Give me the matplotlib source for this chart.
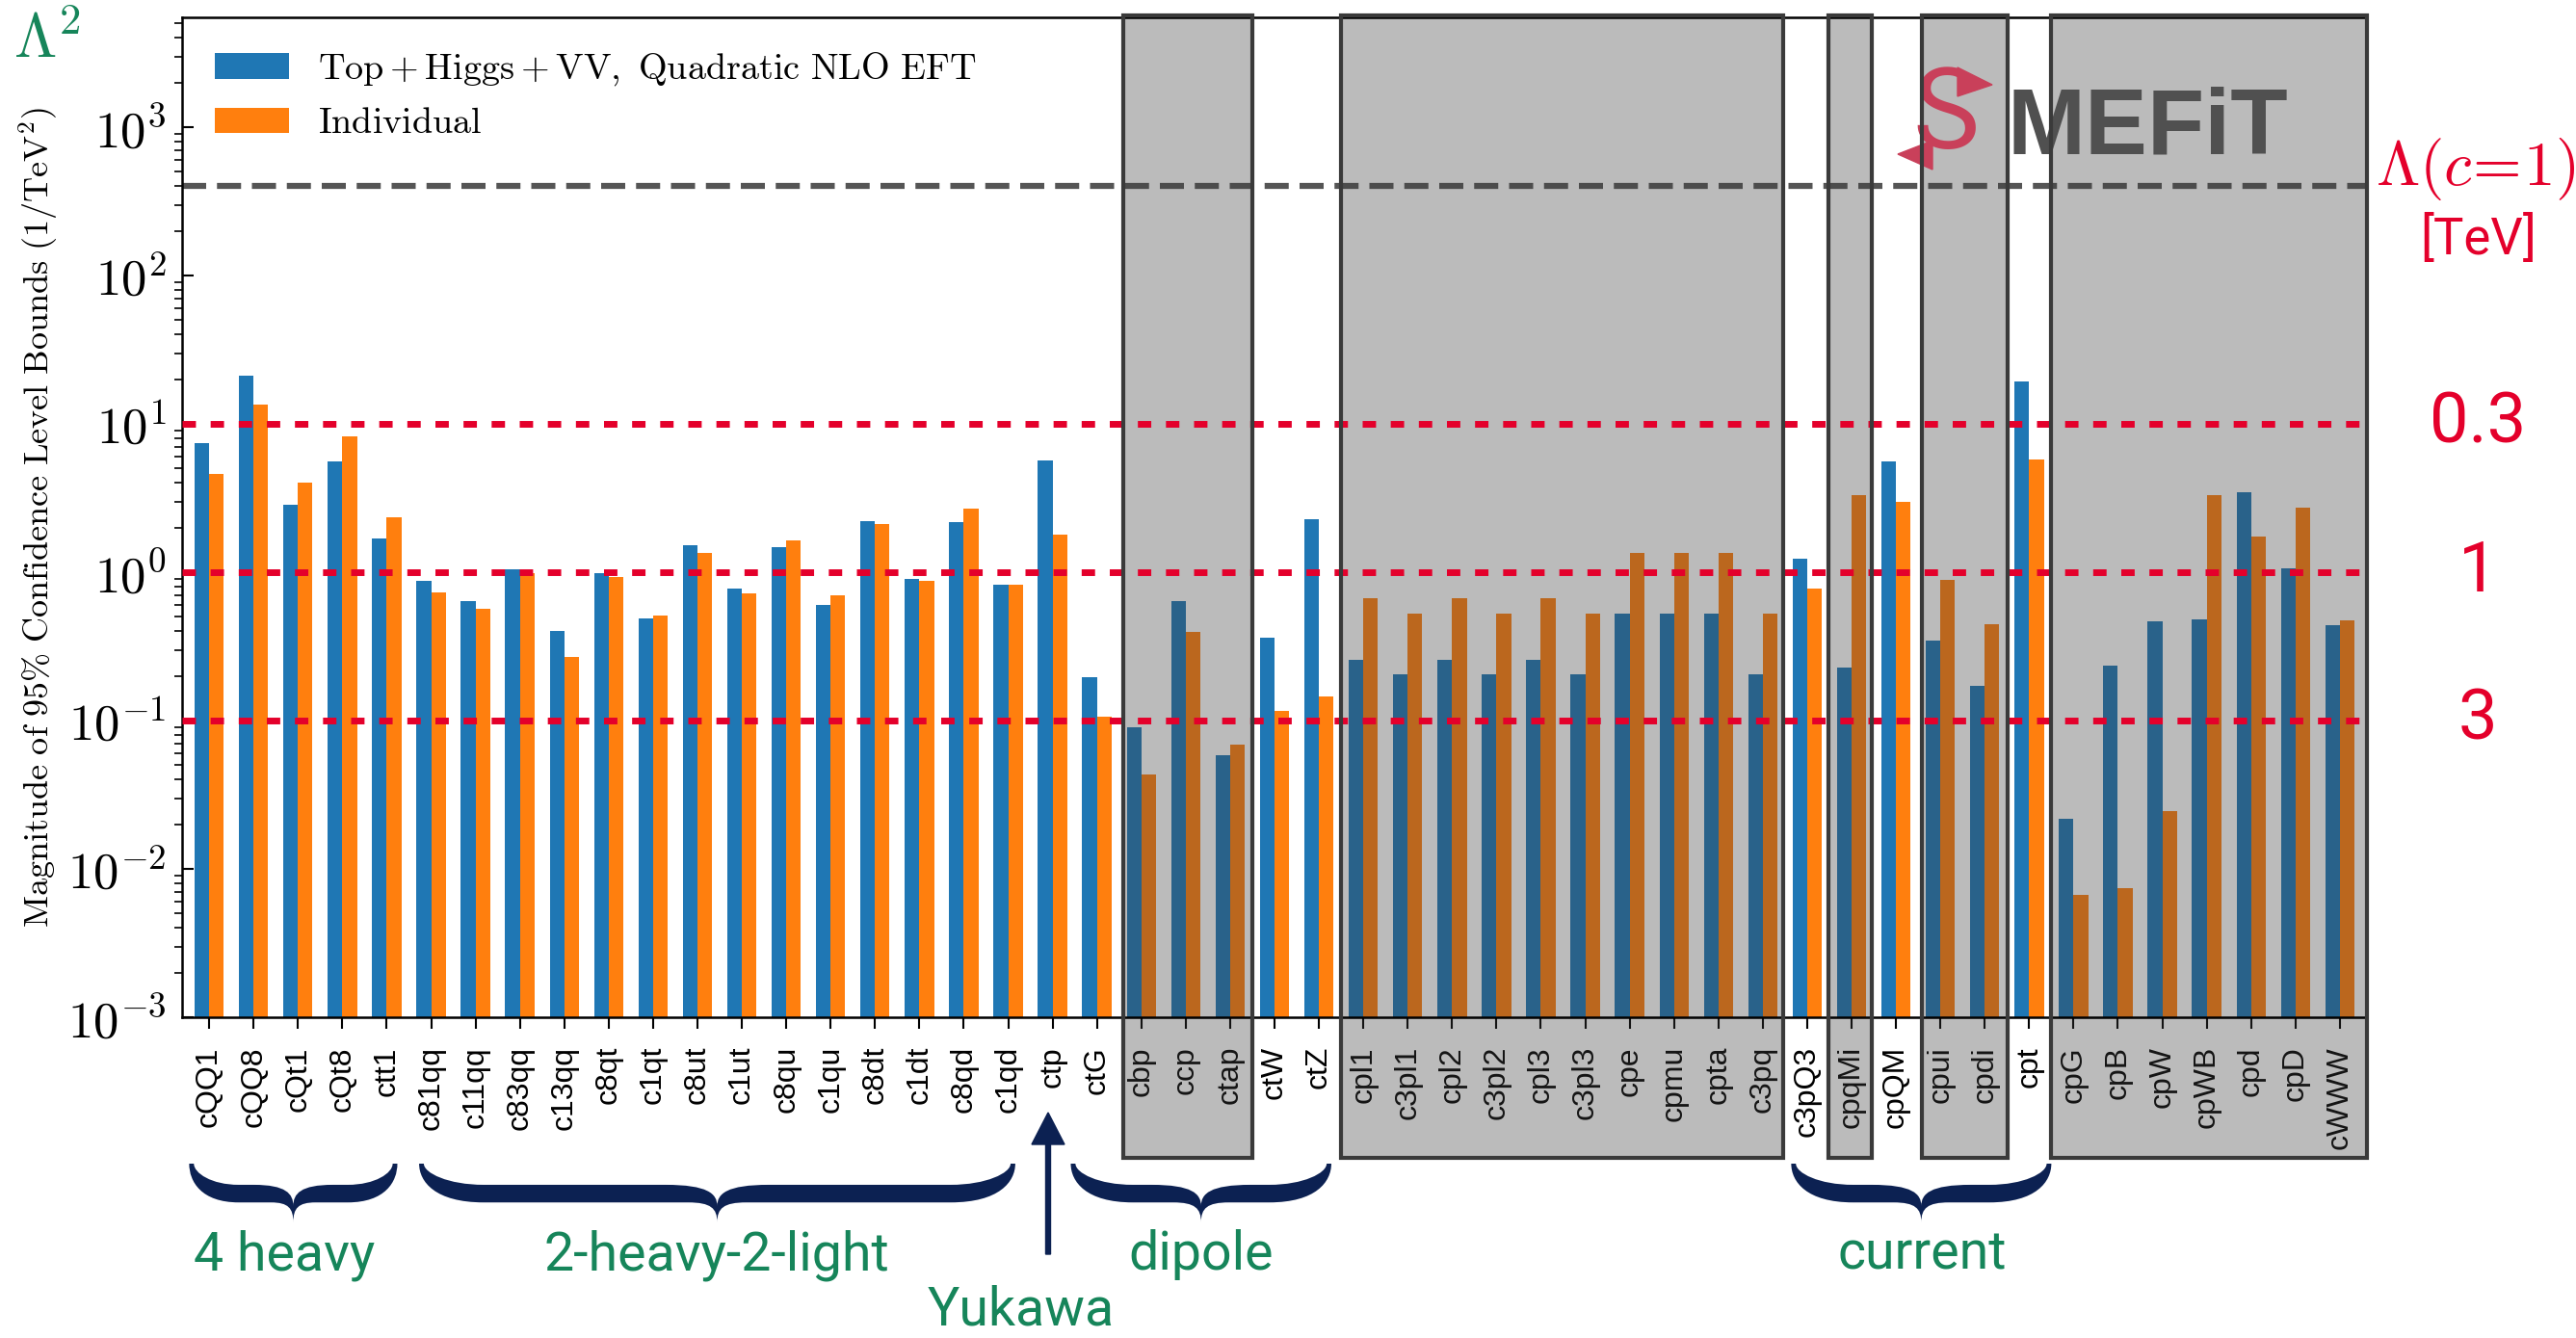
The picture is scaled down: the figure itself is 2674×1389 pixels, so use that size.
import numpy as np
import matplotlib.pyplot as plt
from matplotlib.patches import Rectangle, PathPatch, FancyArrow, Polygon
from matplotlib.path import Path
from matplotlib.ticker import LogLocator, NullFormatter, FuncFormatter
from matplotlib.transforms import IdentityTransform, blended_transform_factory

plt.rcParams['mathtext.fontset'] = 'cm'

labels = ['cQQ1', 'cQQ8', 'cQt1', 'cQt8', 'ctt1',
          'c81qq', 'c11qq', 'c83qq', 'c13qq', 'c8qt', 'c1qt', 'c8ut', 'c1ut',
          'c8qu', 'c1qu', 'c8dt', 'c1dt', 'c8qd', 'c1qd',
          'ctp', 'ctG', 'cbp', 'ccp', 'ctap', 'ctW', 'ctZ',
          'cpl1', 'c3pl1', 'cpl2', 'c3pl2', 'cpl3', 'c3pl3', 'cpe', 'cpmu', 'cpta', 'c3pq',
          'c3pQ3', 'cpqMi', 'cpQM', 'cpui', 'cpdi', 'cpt',
          'cpG', 'cpB', 'cpW', 'cpWB', 'cpd', 'cpD', 'cWWW']

global_fit = [7.4, 21, 2.86, 5.6, 1.70,
              0.875, 0.64, 1.05, 0.40, 0.98, 0.49, 1.52, 0.77,
              1.48, 0.60, 2.2, 0.90, 2.18, 0.82,
              5.7, 0.197, 0.090, 0.637, 0.058, 0.362, 2.28,
              0.258, 0.205, 0.258, 0.205, 0.258, 0.205, 0.527, 0.527, 0.527, 0.205,
              1.23, 0.227, 5.57, 0.348, 0.172, 19.3,
              0.0219, 0.236, 0.467, 0.483, 3.44, 1.06, 0.44]

individual = [4.6, 13.5, 4.0, 8.2, 2.34,
              0.73, 0.57, 0.98, 0.27, 0.935, 0.51, 1.35, 0.72,
              1.64, 0.70, 2.1, 0.87, 2.7, 0.82,
              1.78, 0.106, 0.043, 0.395, 0.069, 0.117, 0.145,
              0.664, 0.527, 0.664, 0.527, 0.664, 0.527, 1.34, 1.34, 1.34, 0.527,
              0.77, 3.32, 2.99, 0.89, 0.443, 5.73,
              0.0067, 0.0074, 0.0245, 3.32, 1.75, 2.72, 0.475]

# shaded boxes (in category index units)
box_spans = [(20.6, 23.5), (25.5, 35.46), (36.48, 37.45), (38.59, 40.52), (41.49, 48.61)]

# reference lines: Lambda = 1/sqrt(bound)
lambda_ticks = ['0.3', '1', '3']
lambda_lines = [10, 1, 0.1]
unit_line = 400

group_names = ['4 heavy', '2-heavy-2-light', 'dipole', 'current']
group_spans = [(-0.45, 4.24), (4.73, 18.16), (19.41, 25.28), (35.64, 41.5)]
group_label_x = [1.7, 11.44, 22.35, 38.58]
yukawa_x = 18.9

W_PX, H_PX = 2674, 1389
fig = plt.figure(figsize=(W_PX / 100, H_PX / 100), dpi=100)
ax = fig.add_axes([189 / W_PX, 1 - 1056 / H_PX, (2457 - 189) / W_PX, (1056 - 18) / H_PX])

green = '#16855a'
navy = '#0c2152'
red = '#e4002b'
sans = ['Roboto', 'Liberation Sans']

x = np.arange(len(labels))
w = 0.33
ax.set_yscale('log')
ax.bar(x - w / 2, global_fit, w, color='#1f77b4',
       label=r'$\mathrm{Top+Higgs+VV,\ Quadratic\ NLO\ EFT}$', zorder=1)
ax.bar(x + w / 2, individual, w, color='#ff7f0e', label=r'$\mathrm{Individual}$', zorder=1)
ax.set_xlim(-0.61, 48.61)
ax.set_ylim(1e-3, 5500)

ax.axhline(unit_line, color='#555555', lw=4.5, ls=(0, (4.0, 1.8)), zorder=1.2)
for v in lambda_lines:
    ax.axhline(v, color=red, lw=5, ls=(0, (2.0, 2.2)), zorder=3)

ax.set_xticks(x)
ax.set_xticklabels(labels, rotation=90, fontsize=23, family='Liberation Sans')
ax.tick_params(axis='x', length=8.6, width=1.5, pad=13)
ax.yaxis.set_major_locator(LogLocator(base=10, numticks=20))
ax.yaxis.set_major_formatter(FuncFormatter(lambda v, p: r'$10^{%d}$' % round(np.log10(v))))
ax.yaxis.set_minor_locator(LogLocator(base=10, subs=np.arange(2, 10), numticks=100))
ax.yaxis.set_minor_formatter(NullFormatter())
ax.tick_params(axis='y', which='major', direction='in', length=8.5, width=1.5, labelsize=38, pad=12)
ax.tick_params(axis='y', which='minor', direction='out', length=5.5, width=1.2)
for s in ax.spines.values():
    s.set_linewidth(1.8)

ax.set_ylabel(r'$\mathrm{Magnitude\ of\ 95\%\ Confidence\ Level\ Bounds\ (1/TeV^2)}$', fontsize=26)
ax.yaxis.set_label_coords(-0.056, 0.5)

ax.legend(loc='upper left', frameon=False, fontsize=27.5)

trans = ax.get_xaxis_transform()
y0, y1 = -0.1407, 1.002
for a, b in box_spans:
    ax.add_patch(Rectangle((a, y0), b - a, y1 - y0, transform=trans, facecolor='#3c3c3c',
                           alpha=0.35, edgecolor='none', clip_on=False, zorder=1.8))
    ax.add_patch(Rectangle((a, y0), b - a, y1 - y0, transform=trans, fill=False,
                           edgecolor='#3a3a3a', lw=3, clip_on=False, zorder=3.5))

# SMEFiT logo
ax.text(2083 / W_PX, 1 - 160 / H_PX, 'MEFiT', transform=fig.transFigure, fontsize=70,
        weight='bold', family='Liberation Sans', color='#505050', zorder=2)
ax.text(2020 / W_PX, 1 - 122 / H_PX, 'S', transform=fig.transFigure, fontsize=84,
        family=sans, color='#c9405a', ha='center', va='center', zorder=2)
for tri in ([(2032, 70), (2068, 88), (2032, 100)], [(2006, 146), (1970, 160), (2006, 176)]):
    ax.add_patch(Polygon([(px, H_PX - py) for px, py in tri], closed=True, color='#c9405a',
                         transform=IdentityTransform(), clip_on=False, zorder=2))

# right hand Lambda labels
fig.text(2466 / W_PX, 1 - 192 / H_PX, r'$\Lambda(c\!=\!1)$', fontsize=47, color=red,
         ha='left', va='baseline')
fig.text(2573 / W_PX, 1 - 249 / H_PX, '[TeV]', fontsize=38, color=red, family=sans,
         ha='center', va='center')
ytrans = ax.get_yaxis_transform()
for lab, v in zip(lambda_ticks, lambda_lines):
    ax.text(1.0507, v, lab, transform=ytrans, fontsize=52, color=red, family=sans,
            ha='center', va='center', clip_on=False)

fig.text(14 / W_PX, 1 - 60 / H_PX, r'$\Lambda^2$', fontsize=46, color=green, ha='left', va='baseline')


def brace_path(xl, xr, ytop, H):
    xm = (xl + xr) / 2
    ya = ytop - 0.36 * H
    yb = ytop - 0.66 * H
    yc = ytop - H
    yv = ytop - 0.72 * H
    cw = min(1.1 * H, (xr - xl) / 4.2)
    tip = 0.08 * H
    verts = [(xl, ytop),
             (xl, yb + 0.35 * H), (xl + 0.25 * cw, yb), (xl + cw, yb),
             (xm - 0.45 * cw, yb),
             (xm - 0.1 * cw, yb), (xm, yb - 0.1 * H), (xm, yc),
             (xm, yb - 0.1 * H), (xm + 0.1 * cw, yb), (xm + 0.45 * cw, yb),
             (xr - cw, yb),
             (xr - 0.25 * cw, yb), (xr, yb + 0.35 * H), (xr, ytop),
             (xr - tip, ytop),
             (xr - tip, ya + 0.2 * H), (xr - 0.45 * cw, ya), (xr - cw, ya),
             (xm + 0.8 * cw, ya),
             (xm + 0.15 * cw, ya), (xm, ya - 0.15 * H), (xm, yv),
             (xm, ya - 0.15 * H), (xm - 0.15 * cw, ya), (xm - 0.8 * cw, ya),
             (xl + cw, ya),
             (xl + 0.45 * cw, ya), (xl + tip, ya + 0.2 * H), (xl + tip, ytop),
             (xl, ytop)]
    codes = ([Path.MOVETO] + [Path.CURVE4] * 3 + [Path.LINETO] + [Path.CURVE4] * 6 +
             [Path.LINETO] + [Path.CURVE4] * 3 + [Path.LINETO] + [Path.CURVE4] * 3 +
             [Path.LINETO] + [Path.CURVE4] * 6 + [Path.LINETO] + [Path.CURVE4] * 3 +
             [Path.CLOSEPOLY])
    return Path(verts, codes)


brace_top = H_PX - 1208
brace_h = 61
for a, b in group_spans:
    xl, xr = ax.transData.transform([[a, 1], [b, 1]])[:, 0]
    fig.add_artist(PathPatch(brace_path(xl, xr, brace_top, brace_h), facecolor=navy,
                             edgecolor='none', transform=IdentityTransform()))

xa = ax.transData.transform([[yukawa_x, 1]])[0, 0]
fig.add_artist(FancyArrow(xa, H_PX - 1302, 0, 1302 - 1155, width=5, head_width=34, head_length=33,
                          length_includes_head=True, color=navy, transform=IdentityTransform()))

btrans = blended_transform_factory(ax.transData, fig.transFigure)
for name, gx in zip(group_names, group_label_x):
    fig.text(gx, 1 - 1318 / H_PX, name, transform=btrans, fontsize=40, color=green,
             family=sans, ha='center', va='baseline')
fig.text(18.29, 1 - 1376 / H_PX, 'Yukawa', transform=btrans, fontsize=40, color=green,
         family=sans, ha='center', va='baseline')

fig.savefig('out.png', dpi=100)
